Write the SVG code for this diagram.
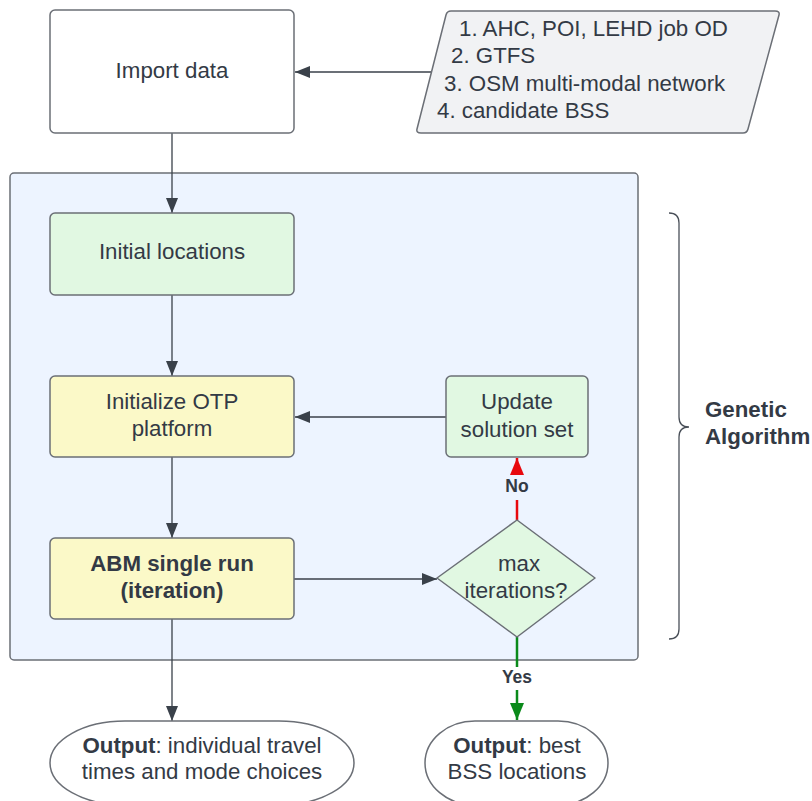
<svg xmlns="http://www.w3.org/2000/svg" width="812" height="801" viewBox="0 0 812 801">
<defs>
<style>
.t{font-family:"Liberation Sans",Arial,sans-serif;font-size:22.3px;fill:#333a45;text-anchor:middle}
.b{font-weight:bold}
.l{text-anchor:start}
.box{stroke:#6b6f76;stroke-width:1.5}
.g{fill:#e1f8e2}
.y{fill:#fbf9c8}
.w{fill:#ffffff}
.c{fill:none;stroke:#3a414a;stroke-width:1.3}
.lab{font-family:"Liberation Sans",Arial,sans-serif;font-size:17.5px;font-weight:bold;fill:#333a45;text-anchor:middle}
</style>
<marker id="ad" markerUnits="userSpaceOnUse" markerWidth="16" markerHeight="12" refX="15" refY="6" orient="auto"><path d="M0,0 L15,6 L0,12 Z" fill="#3a414a"/></marker>
<marker id="ar" markerUnits="userSpaceOnUse" markerWidth="18" markerHeight="14" refX="17" refY="7" orient="auto"><path d="M0,0 L17,7 L0,14 Z" fill="#e8080e"/></marker>
<marker id="ag" markerUnits="userSpaceOnUse" markerWidth="18" markerHeight="14" refX="17" refY="7" orient="auto"><path d="M0,0 L17,7 L0,14 Z" fill="#0a8a1a"/></marker>
</defs>
<rect width="812" height="801" fill="#ffffff"/>

<g id="container">
<rect x="10" y="173" width="628" height="487" rx="4" fill="#edf4ff" stroke="#6b6f76" stroke-width="1.5"/>
</g>

<g id="brace">
<path d="M669,213 Q679,213 679,223 L679,417 Q679,427 689,427 Q679,427 679,437 L679,629 Q679,639 669,639" fill="none" stroke="#4a5059" stroke-width="1.3"/>
<text class="t b l" x="705" y="417">Genetic</text>
<text class="t b l" x="705" y="444">Algorithm</text>
</g>

<g id="connectors">
<line class="c" x1="172" y1="133" x2="172" y2="213" marker-end="url(#ad)"/>
<line class="c" x1="432" y1="72" x2="295" y2="72" marker-end="url(#ad)"/>
<line class="c" x1="172" y1="295" x2="172" y2="376" marker-end="url(#ad)"/>
<line class="c" x1="172" y1="457" x2="172" y2="538" marker-end="url(#ad)"/>
<line class="c" x1="294" y1="579" x2="437" y2="579" marker-end="url(#ad)"/>
<line class="c" x1="446" y1="417" x2="295" y2="417" marker-end="url(#ad)"/>
<line class="c" x1="172" y1="619" x2="172" y2="721" marker-end="url(#ad)"/>
<line x1="517" y1="520" x2="517" y2="500" stroke="#e8080e" stroke-width="2.5"/>
<line x1="517" y1="474" x2="517" y2="458" stroke="#e8080e" stroke-width="2.5" marker-end="url(#ar)"/>
<text class="lab" x="517" y="492">No</text>
<line x1="517" y1="637" x2="517" y2="667" stroke="#0a8a1a" stroke-width="2.5"/>
<line x1="517" y1="690" x2="517" y2="720" stroke="#0a8a1a" stroke-width="2.5" marker-end="url(#ag)"/>
<text class="lab" x="517" y="683">Yes</text>
</g>

<g id="import">
<rect class="box w" x="50" y="10" width="244" height="123" rx="5"/>
<text class="t" x="172" y="78">Import data</text>
</g>

<g id="inputs">
<path d="M451,11 L775,11 Q780,11 779,15 L748,129 Q747,133 743,133 L421,133 Q416,133 417,129 L446,15 Q447,11 451,11 Z" fill="#f1f2f4" stroke="#6b6f76" stroke-width="1.5"/>
<text class="t l" x="459" y="36">1. AHC, POI, LEHD job OD</text>
<text class="t l" x="451" y="63">2. GTFS</text>
<text class="t l" x="444" y="91">3. OSM multi-modal network</text>
<text class="t l" x="437" y="118">4. candidate BSS</text>
</g>

<g id="initial">
<rect class="box g" x="50" y="213" width="244" height="82" rx="5"/>
<text class="t" x="172" y="259">Initial locations</text>
</g>

<g id="otp">
<rect class="box y" x="50" y="376" width="244" height="81" rx="5"/>
<text class="t" x="172" y="409">Initialize OTP</text>
<text class="t" x="172" y="436">platform</text>
</g>

<g id="update">
<rect class="box g" x="446" y="376" width="142" height="81" rx="5"/>
<text class="t" x="517" y="409">Update</text>
<text class="t" x="517" y="437">solution set</text>
</g>

<g id="abm">
<rect class="box y" x="50" y="538" width="244" height="81" rx="5"/>
<text class="t b" x="172" y="571">ABM single run</text>
<text class="t b" x="172" y="598">(iteration)</text>
</g>

<g id="decision">
<path d="M517,520 L595,578 L517,637 L437,578 Z" class="box g" stroke-linejoin="round"/>
<text class="t" x="519" y="571">max</text>
<text class="t" x="516" y="598">iterations?</text>
</g>

<g id="out-travel">
<rect class="box w" x="50" y="721" width="304" height="84" rx="75" ry="42"/>
<text class="t" x="202" y="753"><tspan class="b">Output</tspan>: individual travel</text>
<text class="t" x="202" y="779">times and mode choices</text>
</g>

<g id="out-bss">
<rect class="box w" x="425" y="721" width="183" height="84" rx="50" ry="42"/>
<text class="t" x="517" y="753"><tspan class="b">Output</tspan>: best</text>
<text class="t" x="517" y="779">BSS locations</text>
</g>
</svg>
